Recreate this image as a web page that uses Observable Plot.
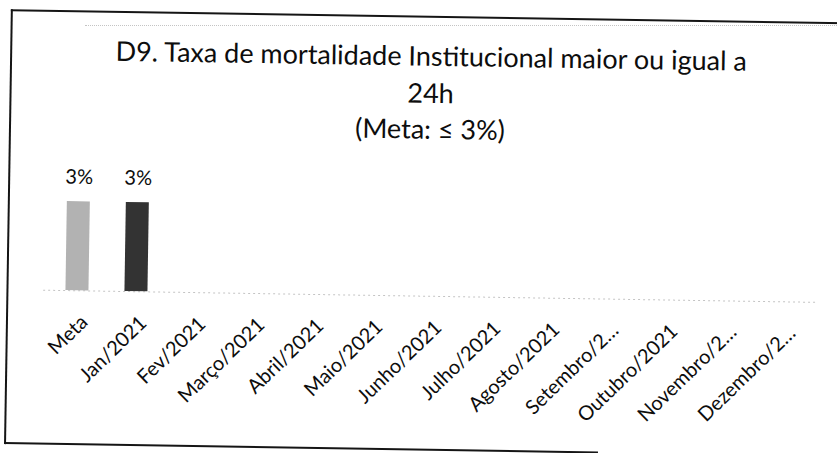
<!DOCTYPE html>
<html><head><meta charset="utf-8">
<script src="https://cdn.jsdelivr.net/npm/d3@7"></script>
<script src="https://cdn.jsdelivr.net/npm/@observablehq/plot@0.6"></script>
<style>
html,body{margin:0;padding:0;background:#fff;width:837px;height:453px;overflow:hidden;}
#page{position:absolute;left:0;top:0;width:837px;height:453px;transform-origin:0 0;transform:rotate(0.9deg);font-family:Lato,sans-serif;color:#0d0d0d;}
#frame{position:absolute;left:11px;top:9px;width:900px;height:433px;border-left:2px solid #151515;border-top:2px solid #151515;}
#bottom{position:absolute;left:11px;top:442px;width:594px;height:0;border-top:2px solid #151515;}
#title{position:absolute;left:0;width:864px;top:31px;text-align:center;line-height:36.5px;font-size:24px;white-space:nowrap;}
#chart{position:absolute;left:0;top:150px;}
#dots{position:absolute;left:85px;top:25px;width:752px;height:0;border-top:1px dotted #c4c4c4;}
</style></head>
<body>
<div id="dots"></div>
<div id="page">
  <div id="frame"></div>
  <div id="bottom"></div>
  <div id="title"><span id="t1">D9. Taxa de mortalidade Institucional maior ou igual a</span><br>24h<br>(Meta: ≤ 3%)</div>
  <div id="chart"></div>
</div>
<script>
const categories = ["Meta","Jan/2021","Fev/2021","Março/2021","Abril/2021","Maio/2021","Junho/2021","Julho/2021","Agosto/2021","Setembro/2021","Outubro/2021","Novembro/2021","Dezembro/2021"];
const tickLabels = ["Meta","Jan/2021","Fev/2021","Março/2021","Abril/2021","Maio/2021","Junho/2021","Julho/2021","Agosto/2021","Setembro/2…","Outubro/2021","Novembro/2…","Dezembro/2…"];
const values = [3, 3, null, null, null, null, null, null, null, null, null, null, null];
const valueLabels = ["3%", "3%", "", "", "", "", "", "", "", "", "", "", ""];
const barColors = ["#b2b2b2", "#333333", "#333333", "#333333", "#333333", "#333333", "#333333", "#333333", "#333333", "#333333", "#333333", "#333333", "#333333"];

// fit title width to the reference
const t1 = document.getElementById("t1");
const titleEl = document.getElementById("title");
const w = t1.offsetWidth;
titleEl.style.fontSize = (24 * 631 / w) + "px";

const data = categories.map((c, i) => ({cat: c, value: values[i], label: valueLabels[i], color: barColors[i], tick: tickLabels[i]}));
const withVal = data.filter(d => d.value != null);

const H = 303;
const chart = Plot.plot({
  width: 837,
  height: H,
  marginTop: 50,
  marginBottom: H - 139,
  marginLeft: 47.7,
  marginRight: 837 - 822.5,
  style: {fontFamily: "Lato, sans-serif", color: "#0d0d0d", background: "transparent", overflow: "visible"},
  x: {domain: categories, paddingInner: 0.614, paddingOuter: 0.307, axis: null},
  y: {domain: [0, 3], axis: null},
  color: {type: "identity"},
  marks: [
    Plot.ruleY([0], {stroke: "#c4c4c4", strokeDasharray: "2,3"}),
    Plot.barY(withVal, {x: "cat", y: "value", fill: "color"}),
    Plot.text(withVal, {x: "cat", y: "value", text: "label", dy: -18, lineAnchor: "bottom", fontSize: 20, fill: "#0d0d0d"}),
    Plot.axisX({domain: categories, tickRotate: -45, tickSize: 0, tickPadding: 28, dx: 7.5, fontSize: 20, fill: "#0d0d0d", label: null, tickFormat: (d) => tickLabels[categories.indexOf(d)]})
  ]
});
document.getElementById("chart").appendChild(chart);
</script>
</body></html>
